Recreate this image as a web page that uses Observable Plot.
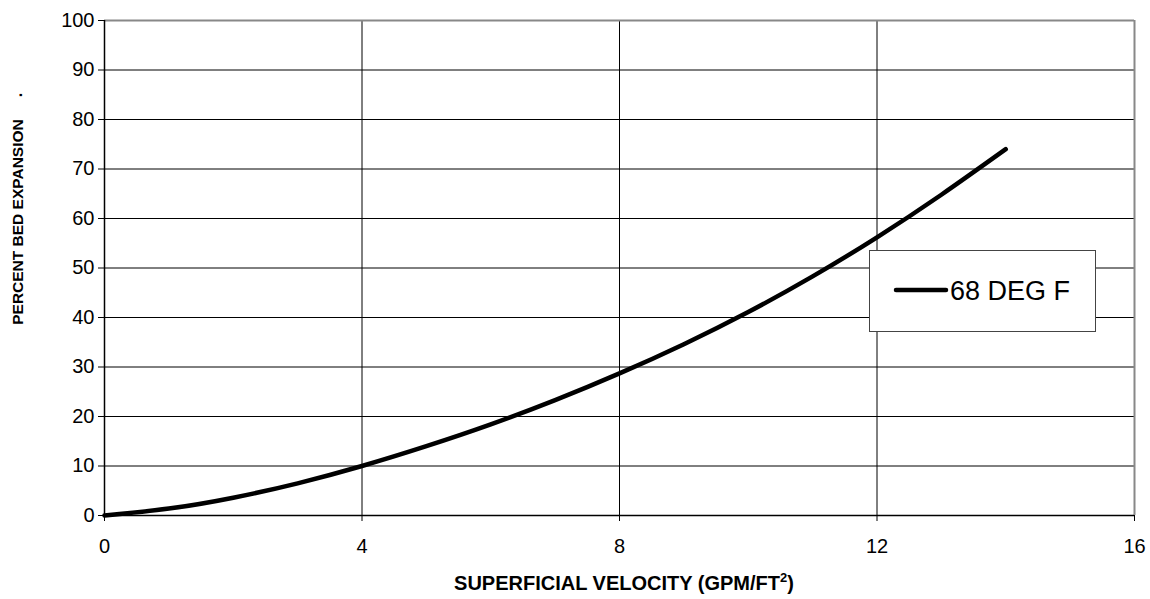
<!DOCTYPE html>
<html>
<head>
<meta charset="utf-8">
<script src="https://cdn.jsdelivr.net/npm/d3@7"></script>
<script src="https://cdn.jsdelivr.net/npm/@observablehq/plot@0.6"></script>
<style>
  html, body { margin: 0; padding: 0; background: #fff; }
  #chart { width: 1150px; height: 599px; }
  svg { font-family: "Liberation Sans", Arial, sans-serif; }
</style>
</head>
<body>
<div id="chart"></div>
<script>
// Data
const velocity = [0, 1, 2, 3, 4, 5, 6, 7, 8, 9, 10, 11, 12, 13, 14];
const expansion = [0, 1.4, 3.6, 6.5, 10, 14.0, 18.4, 23.3, 28.7, 34.6, 41.1, 48.3, 56.2, 64.8, 74.0];
const seriesName = "68 DEG F";
const xTicks = [0, 4, 8, 12, 16];
const yTicks = [0, 10, 20, 30, 40, 50, 60, 70, 80, 90, 100];
const xLabel = "SUPERFICIAL VELOCITY (GPM/FT";
const yLabel = "PERCENT BED EXPANSION";

const data = velocity.map((v, i) => ({x: v, y: expansion[i]}));

const W = 1150, H = 599;
const chart = Plot.plot({
  width: W,
  height: H,
  marginLeft: 104,
  marginRight: 16,
  marginTop: 20,
  marginBottom: 84,
  style: {fontFamily: '"Liberation Sans", Arial, sans-serif', fontSize: "20px", color: "#000", background: "#fff"},
  x: {domain: [0, 16], ticks: xTicks, tickSize: 6, tickPadding: 17, label: null},
  y: {domain: [0, 100], ticks: yTicks, tickSize: 6, tickPadding: 4, label: null},
  marks: [
    Plot.gridY(yTicks.filter(d => d > 0 && d < 100), {stroke: "#000", strokeOpacity: 1, strokeWidth: 1}),
    Plot.gridX(xTicks.filter(d => d > 0 && d < 16), {stroke: "#000", strokeOpacity: 1, strokeWidth: 1}),
    Plot.ruleY([100], {stroke: "#888", strokeWidth: 2}),
    Plot.ruleX([16], {stroke: "#888", strokeWidth: 2}),
    Plot.ruleY([0], {stroke: "#000", strokeWidth: 1.5}),
    Plot.ruleX([0], {stroke: "#000", strokeWidth: 1.5}),
    Plot.line(data, {x: "x", y: "y", stroke: "#000", strokeWidth: 4.5, curve: "natural"})
  ]
});
document.getElementById("chart").appendChild(chart);

const svg = d3.select(chart);
svg.selectAll("[aria-label='x-axis tick label'] text, [aria-label='y-axis tick label'] text").attr("fill", "#000");

// x-axis title with superscript
const xt = svg.append("text")
  .attr("x", 624).attr("y", 590)
  .attr("text-anchor", "middle")
  .attr("font-weight", "bold")
  .attr("font-size", 20)
  .attr("fill", "#000");
xt.append("tspan").text(xLabel);
xt.append("tspan").attr("font-size", 13).attr("dy", -8).text("2");
xt.append("tspan").attr("dy", 8).text(")");

// y-axis title
const yt = svg.append("text")
  .attr("transform", "translate(23,222) rotate(-90)")
  .attr("text-anchor", "middle")
  .attr("font-weight", "bold")
  .attr("font-size", 15.5)
  .attr("fill", "#000")
  .text(yLabel);
svg.append("text")
  .attr("transform", "translate(22,95) rotate(-90)")
  .attr("text-anchor", "middle")
  .attr("font-weight", "bold")
  .attr("font-size", 16)
  .attr("fill", "#000")
  .text(".");

// legend
const lg = svg.append("g");
lg.append("rect").attr("x", 869.5).attr("y", 250.5).attr("width", 226).attr("height", 81)
  .attr("fill", "#fff").attr("stroke", "#444").attr("stroke-width", 1);
lg.append("line").attr("x1", 896).attr("x2", 946).attr("y1", 290).attr("y2", 290)
  .attr("stroke", "#000").attr("stroke-width", 4.5).attr("stroke-linecap", "round");
lg.append("text").attr("x", 950).attr("y", 300).attr("text-anchor", "start")
  .attr("font-size", 27).attr("fill", "#000").text(seriesName);
</script>
</body>
</html>
